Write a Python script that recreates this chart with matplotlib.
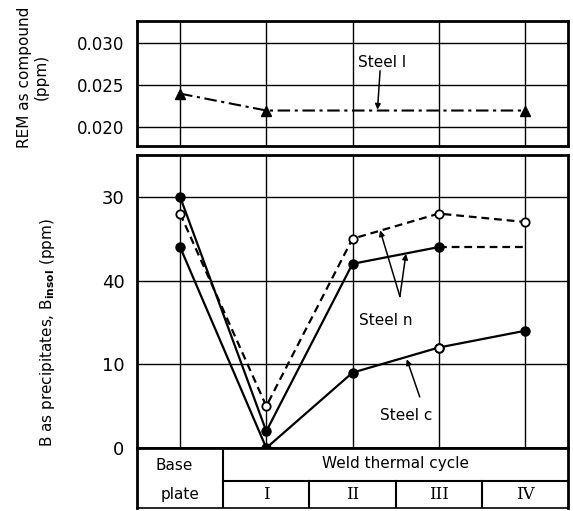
import matplotlib
matplotlib.use('Agg')
import matplotlib.pyplot as plt

# ---------------- data ----------------
stages = ['Base plate', 'I', 'II', 'III', 'IV']
x = list(range(len(stages)))

rem_x = [0, 1, 4]
rem_steel_l = [0.024, 0.022, 0.022]

steel_n_open = [28, 5, 25, 28, 27]          # dashed, open circles
steel_n_filled = [30, 2, 22, 24]            # solid, filled circles (Base..III)
steel_n_filled_ext = [24, 24]               # dashed extension III -> IV
steel_c = [24, 0, 9, 12, 14]                # solid
steel_c_open_idx = [3]                      # open marker at III

top_ticks = [0.020, 0.025, 0.030]
top_ticklabels = ['0.020', '0.025', '0.030']
bot_ticks = [0, 10, 20, 30]
bot_ticklabels = ['0', '10', '40', '30']
roman = ['I', 'II', 'III', 'IV']

plt.rcParams['font.family'] = ['DejaVu Sans']

W, H = 573, 511
fig = plt.figure(figsize=(W / 100, H / 100), dpi=100)

def box(l, r, t, b):
    return [l / W, 1 - b / H, (r - l) / W, (b - t) / H]

L, R = 137, 568
ax_top = fig.add_axes(box(L, R, 21, 146))
ax_bot = fig.add_axes(box(L, R, 155, 448))
ax_tab = fig.add_axes(box(L, R, 448, 508))

grid_kw = dict(color='black', lw=1.0, zorder=1)

for ax in (ax_top, ax_bot):
    ax.set_xlim(-0.5, 4.5)
    ax.set_xticks([])
    for xi in x:
        ax.axvline(xi, **grid_kw)
    for s in ax.spines.values():
        s.set_linewidth(2.0)
    ax.tick_params(axis='y', length=0, pad=9)

# ---- top panel ----
ax_top.set_ylim(0.0178, 0.0326)
ax_top.set_yticks(top_ticks)
ax_top.set_yticklabels(top_ticklabels, fontsize=12)
for t in top_ticks:
    ax_top.axhline(t, **grid_kw)
ax_top.plot(rem_x, rem_steel_l, color='black', lw=1.5, dashes=(6, 2.2, 1.5, 2.2),
            marker='^', ms=7.5, mfc='black', mec='black', zorder=3)
ax_top.text(2.06, 0.0277, 'Steel l', fontsize=11, va='center', ha='left')
ax_top.annotate('', xy=(2.29, 0.0221), xytext=(2.32, 0.0267),
                arrowprops=dict(arrowstyle='-|>', color='black', lw=1.1,
                                mutation_scale=8, shrinkA=0, shrinkB=0))

# ---- bottom panel ----
ax_bot.set_ylim(0, 35)
ax_bot.set_yticks(bot_ticks)
ax_bot.set_yticklabels(bot_ticklabels, fontsize=13)
for t in bot_ticks[1:]:
    ax_bot.axhline(t, **grid_kw)
ax_bot.spines['bottom'].set_linewidth(2.0)

ax_bot.plot(x, steel_n_open, color='black', lw=1.6, dashes=(3.5, 2.2),
            marker='o', ms=6, mfc='white', mec='black', mew=1.3, zorder=4)
ax_bot.plot(x[:4], steel_n_filled, color='black', lw=1.6,
            marker='o', ms=6.5, mfc='black', mec='black', zorder=4)
ax_bot.plot(x[3:5], steel_n_filled_ext, color='black', lw=1.6, dashes=(3.5, 2.2), zorder=3)
ax_bot.plot(x, steel_c, color='black', lw=1.6,
            marker='o', ms=6.5, mfc='black', mec='black', zorder=4)
ax_bot.plot([x[i] for i in steel_c_open_idx], [steel_c[i] for i in steel_c_open_idx],
            ls='none', marker='o', ms=6, mfc='white', mec='black', mew=1.3, zorder=5)

arr = dict(arrowstyle='-|>', color='black', lw=1.1, mutation_scale=8, shrinkA=0, shrinkB=0)
ax_bot.text(2.08, 15.2, 'Steel n', fontsize=11, va='center', ha='left')
ax_bot.annotate('', xy=(2.32, 26.0), xytext=(2.55, 18.1), arrowprops=arr)
ax_bot.annotate('', xy=(2.62, 23.2), xytext=(2.55, 18.1), arrowprops=arr)
ax_bot.text(2.32, 3.9, 'Steel c', fontsize=11, va='center', ha='left')
ax_bot.annotate('', xy=(2.63, 10.6), xytext=(2.78, 6.1), arrowprops=arr)

# ---- table below ----
ax_tab.set_xlim(-0.5, 4.5)
ax_tab.set_ylim(0, 1)
ax_tab.set_xticks([])
ax_tab.set_yticks([])
for s in ax_tab.spines.values():
    s.set_linewidth(2.0)
ax_tab.spines['bottom'].set_linewidth(1.2)
ax_tab.axvline(0.5, color='black', lw=1.5)
ax_tab.plot([0.5, 4.5], [0.45, 0.45], color='black', lw=1.5)
for xi in x[1:-1]:
    ax_tab.plot([xi + 0.5, xi + 0.5], [0, 0.45], color='black', lw=1.5)
ax_tab.text(-0.07, 0.70, 'Base', fontsize=11, ha='center', va='center')
ax_tab.text(0.0, 0.23, 'plate', fontsize=11, ha='center', va='center')
ax_tab.text(2.5, 0.74, 'Weld thermal cycle', fontsize=11, ha='center', va='center')
for xi, r in zip(x[1:], roman):
    ax_tab.text(xi, 0.22, r, fontsize=12, ha='center', va='center', family='DejaVu Serif')

# ---- axis labels ----
fig.text(33 / W, 1 - 77 / H, 'REM as compound\n(ppm)', rotation=90,
         fontsize=11, ha='center', va='center', linespacing=1.2, multialignment='center')
fig.text(48 / W, 1 - 333 / H, r'B as precipitates, B$_{\mathbf{insol}}$ (ppm)',
         rotation=90, fontsize=11, ha='center', va='center')

fig.savefig('out.png', dpi=100)
